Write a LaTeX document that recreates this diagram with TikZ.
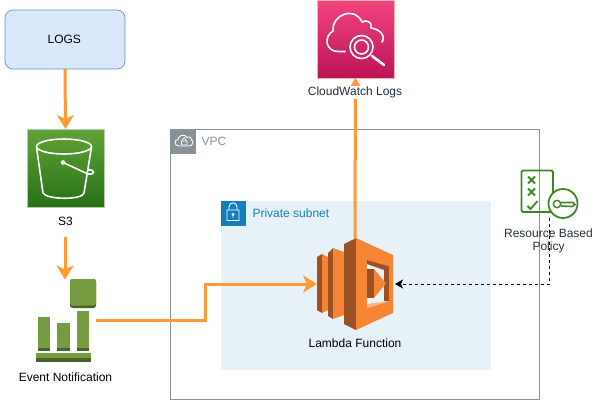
\documentclass[tikz,border=0pt]{standalone}
\usepackage{fontspec}
\setmainfont{Liberation Sans}
\usetikzlibrary{positioning,arrows.meta}
\definecolor{flow}{HTML}{FF9933}
\definecolor{vpcgrey}{HTML}{879196}
\definecolor{subnetblue}{HTML}{147EBA}
\definecolor{subnetfill}{HTML}{E6F2F8}
\definecolor{awstext}{HTML}{232F3E}
\definecolor{evgreen}{HTML}{759C3E}
\definecolor{evdark}{HTML}{4B612C}
\definecolor{lamorange}{HTML}{F58534}
\definecolor{lamdark}{HTML}{9D5025}
\definecolor{polgreen}{HTML}{3F8624}
\begin{document}
\begin{tikzpicture}[x=1pt, y=-1pt,
                      every node/.style = {inner sep=0pt, outer sep=0pt, align=center,
                        font=\fontsize{12}{13.5}\selectfont},
                      flowline/.style = {draw=flow, line width=3pt,
                        -{Stealth[length=14pt,width=17pt,inset=4pt]}},
                      iconline/.style = {draw=white, line width=1.6pt, line cap=round, line join=round},
                      square/.style = {minimum width=77pt, minimum height=78pt},
                      group/.style = {anchor=north west, minimum width=25pt, minimum height=25pt},
                      caption/.style = {anchor=west, font=\fontsize{12}{14}\selectfont}]
  \useasboundingbox (0,0) rectangle (596,400);

  % groups
  \node[draw=vpcgrey, line width=0.8pt, anchor=north west, minimum width=369pt, minimum height=270pt] (vpc) at (170.5,129) {};
  \node[fill=vpcgrey, group] (vpcicon) at (170.5,129) {};
  \node[caption, text=vpcgrey, right=6pt of vpcicon] (vpclabel) {VPC};
  \node[fill=subnetfill, anchor=north west, minimum width=270pt, minimum height=169pt] (subnet) at (220.5,200.5) {};
  \node[fill=subnetblue, group] (subneticon) at (220.5,200.5) {};
  \node[caption, text=subnetblue, right=7pt of subneticon] (subnetlabel) {Private subnet};
  \draw[white, line width=0.9pt, line join=round]
    (179,146) .. controls (174,146) and (174,139.5) .. (178,139.5)
    .. controls (178,135) and (185,133.5) .. (187,137.5)
    .. controls (190,136) and (192,138) .. (191.5,140)
    .. controls (194,141) and (193,146) .. (189,146) -- cycle;
  \draw[white, line width=0.7pt] (181.5,141) rectangle (187,145) (182.6,141) -- (182.6,139.5) .. controls (182.6,137) and (185.9,137) .. (185.9,139.5) -- (185.9,141);
  \draw[white, line width=0.9pt] (227,210) rectangle (239,220.5) (229,210) -- (229,207) .. controls (229,201.5) and (237,201.5) .. (237,207) -- (237,210);
  \draw[white, line width=0.7pt] (233,214.5) circle (1.2pt) (233,215.7) -- (233,218);

  % logs
  \node[draw={rgb,255:red,108;green,142;blue,191}, fill={rgb,255:red,218;green,232;blue,252},
        rounded corners=8pt, line width=0.7pt, minimum width=120pt, minimum height=59pt] (logs) at (65,39.5) {\hspace{-1.5pt}LOGS};

  % s3
  \node[square, draw=green!25!gray!50, line width=0.5pt, top color={rgb,255:red,96;green,163;blue,55},
        bottom color={rgb,255:red,39;green,113;blue,22}] (s3) at (65.5,168) {};
  \node[below=10pt of s3] (s3label) {S3};
  \draw[iconline] (64,146.5) ellipse (27.5 and 7.5);
  \draw[iconline] (36.5,147) -- (43,193) .. controls (47,200) and (83,200) .. (84,193) -- (91.5,147);
  \fill[white] (63,162.5) circle (2.3);
  \draw[iconline] (63,162.5) -- (88,174) .. controls (96,175) and (95,169) .. (88,170);

  % event notification
  \node[minimum width=61pt, minimum height=83pt, anchor=north west] (event) at (35,279) {};
  \node[below=11pt of event] (eventlabel) {Event Notification};
  \fill[evdark, rounded corners=2.5pt] (70,279) rectangle (96,308);
  \fill[evgreen, rounded corners=2.5pt] (70,279) rectangle (96,305.5);
  \foreach \xa/\xb/\ytop in {38/50/317, 57/70/323, 76.5/89/311}{
    \fill[evgreen] (\xa,\ytop) rectangle (\xb,348);
    \fill[evdark] (\xa,348) rectangle (\xb,351);
  }
  \fill[evgreen] (35.5,352.5) rectangle (91,358);
  \fill[evdark] (35.5,358) rectangle (91,362);

  % lambda
  \node[minimum width=76pt, minimum height=92pt] (lambda) at (355,284) {};
  \node[below=9pt of lambda] (lambdalabel) {Lambda Function};
  \fill[lamdark] (317,257) -- (322,254) -- (322,313) -- (317,310) -- cycle;
  \fill[lamorange] (322,254) -- (328,257) -- (328,310) -- (322,313) -- cycle;
  \fill[lamdark] (328,253) -- (333,248) -- (333,319) -- (328,316) -- cycle;
  \fill[lamorange] (333,248) -- (344,252) -- (344,315) -- (333,319) -- cycle;
  \fill[lamdark] (344,244) -- (356,238) -- (356,330) -- (344,324) -- cycle;
  \fill[lamorange] (356,238) -- (393,255) -- (393,313) -- (356,330) -- cycle;
  \fill[subnetfill] (367,260) -- (389,269) -- (389,301) -- (367,308) -- cycle;
  \fill[lamdark] (367,260) -- (389,266.5) -- (389,301) -- (384,301) -- (384,270) -- (367,264) -- cycle;
  \fill[lamorange!60] (367,304) -- (389,301) -- (367,308) -- cycle;
  \fill[lamdark] (367,269) rectangle (374,298);
  \fill[lamorange] (374,269) -- (386,283.5) -- (374,298) -- cycle;

  % cloudwatch
  \node[square, draw=red!30!white, line width=0.5pt, top color={rgb,255:red,243;green,68;blue,130},
        bottom color={rgb,255:red,188;green,19;blue,86}] (cloudwatch) at (355.5,39) {};
  \draw[iconline] (345,51.5) -- (338,51.5) .. controls (326,51.5) and (323,37) .. (333,31)
    .. controls (332,14) and (355,6) .. (362,22) .. controls (367,19) and (373,23) .. (371,28)
    .. controls (380,29) and (386,36) .. (382,42);
  \draw[iconline] (361.5,47) circle (11.5) (361.5,47) circle (7);
  \draw[iconline, line width=2.6pt] (372,56) -- (384,65);

  % policy
  \node[minimum width=57pt, minimum height=48pt] (policy) at (549.5,194) {};
  \node[text=awstext, below=10.5pt of policy, xshift=-1pt] (policylabel) {Resource Based\\Policy};
  \draw[polgreen, line width=1.8pt, rounded corners=1.5pt] (553,194) -- (553,170.5) -- (521.5,170.5) -- (521.5,212) -- (551,212);
  \foreach \ymark in {180,192}{
    \draw[polgreen, line width=1.8pt] (528,\ymark-3.5) -- (535,\ymark+3.5) (535,\ymark-3.5) -- (528,\ymark+3.5);
  }
  \draw[polgreen, line width=1.8pt] (527.5,206) -- (530.5,209) -- (537.5,201);
  \draw[polgreen, line width=1.8pt, fill=white] (563,203.5) circle (14.5);
  \draw[polgreen, line width=1.4pt] (557,204) circle (3.7);
  \draw[polgreen, line width=1.6pt] (560.5,202.5) -- (573,202.5) -- (575,204.5) -- (572,206.5) -- (561,206);

  % connectors
  \coordinate (bend) at (205.5,284);
  \coordinate (s3out) at (65,237);
  \coordinate (eventin) at (65,279.5);
  \coordinate (policycorner) at (549.5,284);
  \coordinate (lambdaout) at (395,284);
  \draw[flowline] (logs.south) -- (s3.north);
  \draw[flowline] (s3out) -- (eventin);
  \draw[flowline] (event.east) -| (bend) -- (lambda.west);
  \draw[flowline] (lambda.north) -- (cloudwatch.south);
  \node[fill=white, text=awstext, minimum height=13pt, inner xsep=1pt] (cloudwatchlabel) at (355,92) {CloudWatch Logs};
  \draw[dashed, line width=0.7pt, -{Stealth[length=8pt,width=9pt,inset=2pt]}] (policy.south) -- (policycorner) -- (lambdaout);
\end{tikzpicture}
\end{document}
